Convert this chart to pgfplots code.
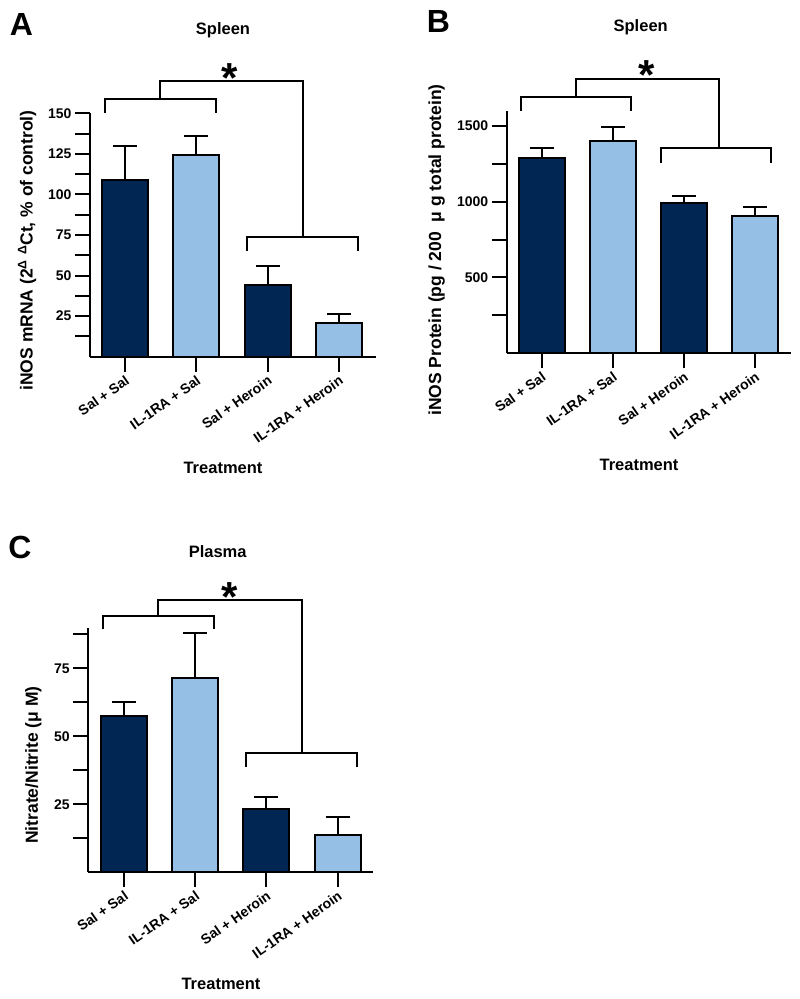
\documentclass[border=0pt]{standalone}
\usepackage{pgfplots}
\pgfplotsset{compat=1.18}
\usepackage{fontspec}
\setmainfont{Liberation Sans}
\definecolor{navy}{RGB}{2,38,84}
\definecolor{lblue}{RGB}{150,191,229}
\newcommand{\tickfont}{\fontsize{14}{16}\selectfont\bfseries}
\newcommand{\labfont}{\fontsize{17.5}{20}\selectfont\bfseries}
\newcommand{\titfont}{\fontsize{16.5}{18}\selectfont\bfseries}
\newcommand{\panfont}{\fontsize{32}{33}\selectfont\bfseries}
\newcommand{\starfont}{\fontsize{42}{42}\selectfont\bfseries}
\pgfplotsset{
  panel/.style={
    scale only axis, clip=false, ymin=0,
    axis x line*=bottom, axis y line*=left,
    axis line style={line width=2pt, black},
    every tick/.style={black, line width=2pt},
    tick align=outside, major tick length=15pt, minor tick length=15pt,
    xtick={0,1,2,3},
    xticklabels={Sal + Sal, IL-1RA + Sal, Sal + Heroin, IL-1RA + Heroin},
    xticklabel style={font=\tickfont, rotate=35, anchor=north east, inner sep=2pt},
    yticklabel style={font=\tickfont},
    /pgf/number format/assume math mode=true,
    /pgf/number format/1000 sep={},
  },
  errs/.style={error bars/.cd, y dir=plus, y explicit,
    error bar style={line width=2pt, black},
    error mark options={rotate=90, line width=2pt, black, mark size=12pt}},
  darkbar/.style={ybar, bar width=46pt, bar shift=0pt, fill=navy, draw=black, line width=2pt, errs},
  lightbar/.style={ybar, bar width=46pt, bar shift=0pt, fill=lblue, draw=black, line width=2pt, errs},
  brk/.style={black, line width=2pt, mark=none, sharp plot},
}
\begin{document}
\begin{tikzpicture}
\useasboundingbox (0pt,0pt) rectangle (800pt,999pt);
% ---------------- Panel A ----------------
\begin{axis}[panel, at={(90pt,642.3pt)}, anchor=south west,
  width=286pt, height=243.4pt, xmin=-0.49, xmax=3.52, ymax=150,
  ytick={25,50,...,150}, minor ytick={12.5,37.5,...,137.5}]
\addplot[darkbar] coordinates {(0,109) +- (0,20.6) (2,44) +- (0,12)};
\addplot[lightbar] coordinates {(1,124) +- (0,11.8) (3,20.6) +- (0,5.6)};
\addplot[brk] coordinates {(-0.28,150.4) (-0.28,159) (1.27,159) (1.27,150.4)};
\addplot[brk] coordinates {(0.49,159) (0.49,169.8) (2.50,169.8) (2.50,74)};
\addplot[brk] coordinates {(1.71,65.4) (1.71,74) (3.27,74) (3.27,65.4)};
\end{axis}
\node at (223pt,969pt) {\titfont Spleen};
\node at (21.5pt,974pt) {\panfont A};
\node at (223pt,531pt) {\titfont Treatment};
\node[rotate=90] at (27pt,748.5pt) {\labfont iNOS mRNA (2\textsuperscript{Δ}\ \textsuperscript{Δ}Ct, \% of control)};
\node[anchor=base] at (230pt,906pt) {\starfont *};
% ---------------- Panel B ----------------
\begin{axis}[panel, at={(506.7pt,645.7pt)}, anchor=south west,
  width=284pt, height=242.7pt, xmin=-0.49, xmax=3.5, ymax=1600,
  ytick={500,1000,1500}, minor ytick={250,750,1250}]
\addplot[darkbar] coordinates {(0,1285) +- (0,66) (2,993) +- (0,44)};
\addplot[lightbar] coordinates {(1,1401) +- (0,91) (3,905) +- (0,61)};
\addplot[brk] coordinates {(-0.295,1597) (-0.295,1691) (1.25,1691) (1.25,1597)};
\addplot[brk] coordinates {(0.478,1691) (0.478,1808) (2.494,1808) (2.494,1355)};
\addplot[brk] coordinates {(1.671,1252) (1.671,1355) (3.23,1355) (3.23,1252)};
\end{axis}
\node at (640.7pt,971.7pt) {\titfont Spleen};
\node at (438.5pt,977.3pt) {\panfont B};
\node at (639pt,534pt) {\titfont Treatment};
\node[rotate=90] at (436.7pt,749pt) {\labfont iNOS Protein (pg / 200 \ μ g total protein)};
\node[anchor=base] at (646.7pt,909pt) {\starfont *};
% ---------------- Panel C ----------------
\begin{axis}[panel, at={(88.3pt,126.7pt)}, anchor=south west,
  width=285pt, height=244pt, xmin=-0.5, xmax=3.5, ymax=89.7,
  ytick={25,50,75}, minor ytick={12.5,37.5,62.5,87.5}]
\addplot[darkbar] coordinates {(0,57.6) +- (0,4.9) (2,23.2) +- (0,4.4)};
\addplot[lightbar] coordinates {(1,71.5) +- (0,16.6) (3,13.7) +- (0,6.5)};
\addplot[brk] coordinates {(-0.29,89.3) (-0.29,94.3) (1.264,94.3) (1.264,89.3)};
\addplot[brk] coordinates {(0.482,94.3) (0.482,100.1) (2.496,100.1) (2.496,43.75)};
\addplot[brk] coordinates {(1.709,38.8) (1.709,43.75) (3.268,43.75) (3.268,38.8)};
\end{axis}
\node at (217.7pt,447.3pt) {\titfont Plasma};
\node at (20pt,451.5pt) {\panfont C};
\node at (221pt,15pt) {\titfont Treatment};
\node[rotate=90] at (33.3pt,234pt) {\labfont Nitrate/Nitrite (μ M)};
\node[anchor=base] at (230pt,387pt) {\starfont *};
\end{tikzpicture}
\end{document}
